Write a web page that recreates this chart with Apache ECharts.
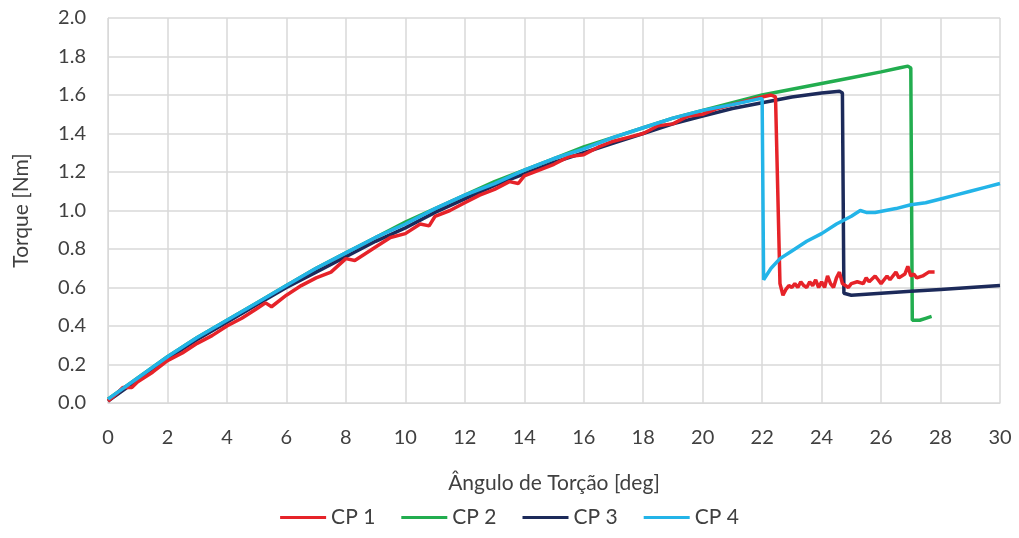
<!DOCTYPE html>
<html><head><meta charset="utf-8">
<script src="https://cdn.jsdelivr.net/npm/echarts@6/dist/echarts.min.js"></script>
<style>html,body{margin:0;padding:0;background:#fff}#c{width:1019px;height:538px}</style>
</head><body><div id="c"></div>
<script>
const seriesNames = ['CP 1','CP 2','CP 3','CP 4'];
const xTicks = [0,2,4,6,8,10,12,14,16,18,20,22,24,26,28,30];
const yTicks = [0,0.2,0.4,0.6,0.8,1.0,1.2,1.4,1.6,1.8,2.0];
const cp1 = [[0,0.01],[0.3,0.05],[0.5,0.08],[0.8,0.08],[1,0.11],[1.5,0.16],[2,0.22],[2.5,0.26],[3,0.31],[3.5,0.35],[4,0.40],[4.5,0.44],[5,0.49],[5.3,0.52],[5.5,0.50],[6,0.56],[6.5,0.61],[7,0.65],[7.5,0.68],[8,0.75],[8.3,0.74],[8.6,0.77],[9,0.81],[9.5,0.86],[10,0.88],[10.5,0.93],[10.8,0.92],[11,0.97],[11.5,1.00],[12,1.04],[12.5,1.08],[13,1.11],[13.5,1.15],[13.8,1.14],[14,1.18],[14.5,1.21],[15,1.24],[15.5,1.28],[16,1.29],[16.5,1.33],[17,1.36],[17.5,1.38],[18,1.40],[18.5,1.44],[19,1.45],[19.5,1.49],[20,1.50],[20.5,1.53],[21,1.55],[21.5,1.57],[22,1.59],[22.3,1.60],[22.45,1.59],[22.6,0.62],[22.7,0.56],[22.8,0.59],[22.9,0.61],[23.0,0.60],[23.1,0.62],[23.2,0.60],[23.3,0.63],[23.4,0.61],[23.5,0.60],[23.6,0.63],[23.7,0.61],[23.8,0.64],[23.9,0.60],[24.0,0.63],[24.1,0.60],[24.2,0.66],[24.3,0.62],[24.4,0.60],[24.5,0.65],[24.6,0.68],[24.7,0.62],[24.8,0.61],[24.9,0.60],[25.0,0.62],[25.2,0.63],[25.4,0.62],[25.5,0.65],[25.6,0.63],[25.8,0.66],[25.9,0.64],[26.0,0.62],[26.2,0.66],[26.3,0.64],[26.5,0.68],[26.6,0.65],[26.8,0.67],[26.9,0.71],[27.0,0.66],[27.1,0.67],[27.2,0.65],[27.4,0.66],[27.6,0.68],[27.8,0.68]];
const cp2 = [[0,0.02],[1,0.13],[2,0.24],[3,0.34],[4,0.43],[5,0.52],[6,0.61],[7,0.70],[8,0.78],[9,0.86],[10,0.94],[11,1.01],[12,1.08],[13,1.15],[14,1.21],[15,1.27],[16,1.33],[17,1.38],[18,1.43],[19,1.48],[20,1.52],[21,1.56],[22,1.60],[23,1.63],[24,1.66],[25,1.69],[26,1.72],[26.6,1.74],[26.9,1.75],[27.0,1.74],[27.05,0.43],[27.3,0.43],[27.5,0.44],[27.7,0.45]];
const cp3 = [[0,0.01],[1,0.12],[2,0.23],[3,0.33],[4,0.42],[5,0.51],[6,0.60],[7,0.68],[8,0.76],[9,0.84],[10,0.91],[11,0.99],[12,1.06],[13,1.13],[14,1.19],[15,1.25],[16,1.30],[17,1.35],[18,1.40],[19,1.45],[20,1.49],[21,1.53],[22,1.56],[23,1.59],[24,1.61],[24.6,1.62],[24.7,1.61],[24.75,0.57],[25,0.56],[26,0.57],[27,0.58],[28,0.59],[29,0.60],[30,0.61]];
const cp4 = [[0,0.02],[1,0.13],[2,0.24],[3,0.34],[4,0.43],[5,0.52],[6,0.61],[7,0.70],[8,0.78],[9,0.86],[10,0.93],[11,1.01],[12,1.08],[13,1.14],[14,1.21],[15,1.27],[16,1.32],[17,1.38],[18,1.43],[19,1.48],[20,1.52],[21,1.55],[21.9,1.58],[22.0,1.58],[22.05,0.64],[22.3,0.70],[22.6,0.75],[23,0.79],[23.5,0.84],[24,0.88],[24.5,0.93],[25,0.97],[25.3,1.00],[25.5,0.99],[25.8,0.99],[26.5,1.01],[27,1.03],[27.5,1.04],[28,1.06],[28.5,1.08],[29,1.10],[29.5,1.12],[30,1.14]];
const colors = ['#e62329','#22ad4f','#1c2a5a','#23b4e8'];
const font = 'Lato, "Open Sans", sans-serif';
const chart = echarts.init(document.getElementById('c'));
const allData = [cp1,cp2,cp3,cp4];
chart.setOption({
  animation:false,
  color: colors,
  grid:{left:108,right:19,top:18,bottom:135,containLabel:false},
  legend:{bottom:5,left:'center',itemWidth:46,itemHeight:3,itemGap:26,
    icon:'rect',
    textStyle:{fontSize:21,color:'#404040',fontFamily:font,padding:[0,0,0,0]},
    data:seriesNames},
  xAxis:{type:'value',min:0,max:30,interval:2,
    name:'Ângulo de Torção [deg]',nameLocation:'middle',nameGap:70,
    nameTextStyle:{fontSize:21,color:'#404040',fontFamily:font},
    axisLine:{show:true,lineStyle:{color:'#d9d9d9',width:1}},axisTick:{show:false},
    axisLabel:{fontSize:20,color:'#404040',fontFamily:font,margin:25},
    splitLine:{show:true,lineStyle:{color:'#d9d9d9',width:1.5}}},
  yAxis:{type:'value',min:0,max:2,interval:0.2,
    name:'Torque [Nm]',nameLocation:'middle',nameGap:76,nameRotate:90,
    nameTextStyle:{fontSize:21,color:'#404040',fontFamily:font},
    axisLine:{show:true,lineStyle:{color:'#d9d9d9',width:1}},axisTick:{show:false},
    axisLabel:{fontSize:20,color:'#404040',fontFamily:font,margin:22,formatter:v=>v.toFixed(1)},
    splitLine:{show:true,lineStyle:{color:'#d9d9d9',width:1.5}}},
  series: seriesNames.map((n,i)=>({name:n,type:'line',data:allData[i],showSymbol:false,symbol:'none',
    lineStyle:{width:3.5,color:colors[i]},itemStyle:{color:colors[i]},z:[4,2,3,5][i]}))
});
</script></body></html>
